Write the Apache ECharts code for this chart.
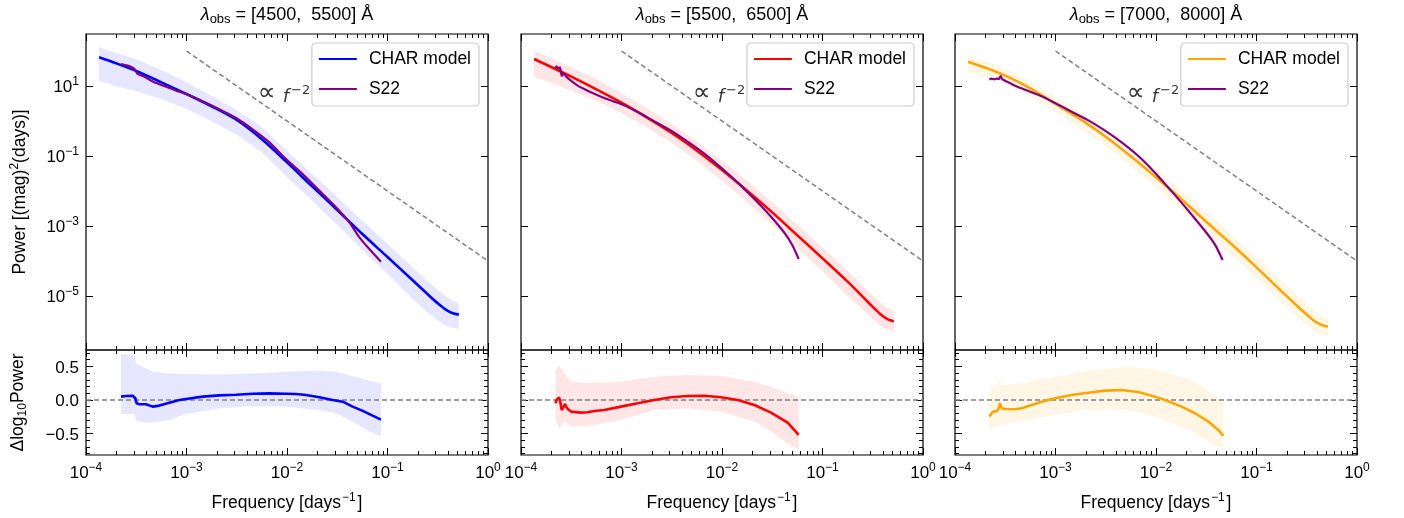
<!DOCTYPE html>
<html><head><meta charset="utf-8">
<script src="https://cdn.jsdelivr.net/npm/echarts@6/dist/echarts.min.js"></script>
<style>html,body{margin:0;padding:0;background:#fff}#c{width:1404px;height:518px}</style>
</head><body><div id="c"></div>
<script>
// ---------------- data (log10 values) ----------------
const panelTitles = [['4500', '5500'], ['5500', '6500'], ['7000', '8000']];
const modelColors = ['#0000ff', '#ff0000', '#ffa500'];
const bandColors = ['#e6e6ff', '#ffe6e6', '#fff6e6'];
const s22Color = '#800080';

const xMajorTicks = [-4, -3, -2, -1, 0];
const powerTicks = [-5, -3, -1, 1];
const resMajorTicks = [-0.5, 0, 0.5];
const resMinorTicks = [-0.8, -0.7, -0.6, -0.4, -0.3, -0.2, -0.1, 0.1, 0.2, 0.3, 0.4, 0.6, 0.7];

// CHAR model (log10 frequency grid shared by the three panels)
const modelFreqLog = [-3.87, -3.70, -3.50, -3.25, -3.00, -2.75, -2.50, -2.25, -2.00, -1.75, -1.50, -1.25, -1.00, -0.75, -0.60, -0.50, -0.42, -0.35, -0.29];
const model1PowerLog = [1.819, 1.648, 1.429, 1.105, 0.771, 0.419, 0.029, -0.520, -1.180, -1.867, -2.543, -3.229, -3.886, -4.550, -4.952, -5.210, -5.390, -5.495, -5.533];
const model1UpperLog = [2.105, 1.943, 1.762, 1.457, 1.105, 0.724, 0.314, -0.181, -0.848, -1.514, -2.181, -2.848, -3.514, -4.181, -4.580, -4.830, -5.000, -5.130, -5.210];
const model1LowerLog = [1.152, 0.990, 0.848, 0.629, 0.343, -0.010, -0.390, -0.895, -1.590, -2.276, -2.971, -3.686, -4.371, -5.086, -5.470, -5.700, -5.840, -5.910, -5.943];
const model2PowerLog = [1.771, 1.543, 1.267, 0.905, 0.524, 0.105, -0.343, -0.848, -1.400, -1.990, -2.610, -3.267, -3.924, -4.590, -5.020, -5.310, -5.530, -5.670, -5.724];
const model2UpperLog = [2.010, 1.800, 1.533, 1.200, 0.790, 0.371, -0.086, -0.581, -1.133, -1.705, -2.324, -2.962, -3.610, -4.276, -4.700, -4.980, -5.200, -5.340, -5.420];
const model2LowerLog = [1.267, 1.076, 0.867, 0.581, 0.219, -0.181, -0.619, -1.133, -1.705, -2.324, -2.962, -3.629, -4.295, -4.990, -5.400, -5.660, -5.860, -5.970, -6.010];
const model3PowerLog = [1.695, 1.524, 1.295, 0.933, 0.486, 0.048, -0.448, -1.010, -1.610, -2.229, -2.876, -3.514, -4.181, -4.867, -5.270, -5.530, -5.720, -5.830, -5.876];
const model3UpperLog = [1.867, 1.705, 1.486, 1.133, 0.695, 0.267, -0.229, -0.771, -1.371, -1.971, -2.610, -3.248, -3.895, -4.581, -4.970, -5.230, -5.430, -5.570, -5.657];
const model3LowerLog = [1.410, 1.267, 1.057, 0.695, 0.248, -0.210, -0.705, -1.276, -1.876, -2.514, -3.181, -3.819, -4.486, -5.181, -5.570, -5.820, -6.000, -6.110, -6.162];

// S22
const s22Freq1 = [-3.652, -3.569, -3.519, -3.486, -3.420, -3.320, -3.204, -3.104, -3.005, -2.839, -2.673, -2.507, -2.342, -2.176, -2.010, -1.844, -1.678, -1.512, -1.380, -1.280, -1.181, -1.065];
const s22Power1 = [1.629, 1.571, 1.495, 1.343, 1.267, 1.105, 0.981, 0.867, 0.771, 0.562, 0.333, 0.086, -0.238, -0.610, -1.086, -1.514, -1.990, -2.467, -2.895, -3.324, -3.657, -4.019];
const s22Freq2 = [-3.658, -3.645, -3.629, -3.612, -3.595, -3.575, -3.556, -3.519, -3.436, -3.337, -3.171, -3.005, -2.839, -2.673, -2.507, -2.342, -2.176, -2.010, -1.844, -1.678, -1.512, -1.380, -1.297, -1.237];
const s22Power2 = [1.514, 1.562, 1.495, 1.533, 1.286, 1.362, 1.286, 1.190, 1.010, 0.867, 0.657, 0.486, 0.257, -0.010, -0.276, -0.590, -0.933, -1.333, -1.762, -2.229, -2.733, -3.190, -3.562, -3.943];
const s22Freq3 = [-3.658, -3.635, -3.609, -3.585, -3.562, -3.546, -3.529, -3.502, -3.403, -3.270, -3.138, -3.005, -2.839, -2.673, -2.507, -2.342, -2.176, -2.010, -1.844, -1.678, -1.512, -1.413, -1.337];
const s22Power3 = [1.190, 1.210, 1.190, 1.210, 1.200, 1.286, 1.190, 1.152, 1.010, 0.857, 0.705, 0.514, 0.267, 0.019, -0.276, -0.610, -1.000, -1.476, -2.010, -2.562, -3.143, -3.533, -3.971];

// residuals  Δlog10 Power
const resFreq1 = [-3.652, -3.602, -3.536, -3.509, -3.496, -3.469, -3.403, -3.337, -3.270, -3.171, -3.071, -3.005, -2.839, -2.673, -2.507, -2.342, -2.176, -2.010, -1.910, -1.811, -1.678, -1.546, -1.446, -1.347, -1.247, -1.148, -1.065];
const resVal1 = [0.050, 0.059, 0.064, 0.025, -0.050, -0.064, -0.064, -0.099, -0.084, -0.040, 0.000, 0.015, 0.050, 0.069, 0.079, 0.094, 0.099, 0.094, 0.089, 0.074, 0.040, 0.000, -0.025, -0.099, -0.163, -0.233, -0.292];
const resBandFreq1 = [-3.652, -3.519, -3.502, -3.436, -3.337, -3.171, -3.005, -2.673, -2.342, -2.010, -1.678, -1.512, -1.347, -1.181, -1.065];
const resUpper1 = [0.684, 0.669, 0.545, 0.495, 0.421, 0.396, 0.386, 0.381, 0.396, 0.421, 0.436, 0.421, 0.357, 0.287, 0.248];
const resLower1 = [-0.208, -0.208, -0.307, -0.327, -0.337, -0.297, -0.208, -0.124, -0.089, -0.099, -0.149, -0.198, -0.322, -0.470, -0.535];

const resFreq2 = [-3.658, -3.642, -3.622, -3.609, -3.595, -3.579, -3.562, -3.542, -3.502, -3.403, -3.337, -3.270, -3.171, -3.005, -2.839, -2.673, -2.507, -2.342, -2.176, -2.010, -1.844, -1.678, -1.512, -1.347, -1.237];
const resVal2 = [-0.050, 0.010, 0.040, -0.025, -0.149, -0.109, -0.059, -0.124, -0.173, -0.188, -0.183, -0.163, -0.149, -0.099, -0.050, 0.000, 0.040, 0.059, 0.064, 0.040, 0.000, -0.074, -0.188, -0.337, -0.520];
const resBandFreq2 = [-3.658, -3.619, -3.569, -3.502, -3.337, -3.005, -2.673, -2.342, -2.010, -1.678, -1.512, -1.347, -1.237];
const resUpper2 = [0.446, 0.505, 0.396, 0.272, 0.248, 0.272, 0.347, 0.371, 0.357, 0.272, 0.198, 0.099, 0.050];
const resLower2 = [-0.272, -0.421, -0.322, -0.396, -0.386, -0.297, -0.149, -0.124, -0.173, -0.322, -0.470, -0.644, -0.743];

const resFreq3 = [-3.658, -3.635, -3.609, -3.585, -3.569, -3.552, -3.536, -3.502, -3.403, -3.337, -3.237, -3.138, -3.005, -2.839, -2.673, -2.507, -2.342, -2.176, -2.010, -1.910, -1.745, -1.612, -1.479, -1.380, -1.330];
const resVal3 = [-0.248, -0.198, -0.163, -0.173, -0.139, -0.050, -0.124, -0.134, -0.139, -0.124, -0.074, -0.025, 0.025, 0.074, 0.109, 0.139, 0.149, 0.119, 0.050, 0.000, -0.099, -0.198, -0.322, -0.446, -0.535];
const resBandFreq3 = [-3.658, -3.569, -3.552, -3.536, -3.337, -3.005, -2.673, -2.342, -2.176, -2.010, -1.678, -1.512, -1.330];
const resUpper3 = [0.149, 0.248, 0.297, 0.223, 0.248, 0.347, 0.436, 0.485, 0.485, 0.456, 0.322, 0.173, -0.050];
const resLower3 = [-0.436, -0.386, -0.376, -0.376, -0.322, -0.223, -0.139, -0.149, -0.178, -0.248, -0.446, -0.594, -0.743];

// reference power law  P ∝ f^-2  (log10 f, log10 P)
const powerLawRef = [[-3, 2], [0, -4]];
const powerLawLabelAt = [-2.29, 0.74];
const zeroLine = [[-4, 0], [0, 0]];

// ---------------- layout ----------------
const FONT = '"Liberation Sans", Arial, "DejaVu Sans", sans-serif';
const lefts = [86, 521, 955];
const W = 402, TOP = 34, H1 = 316, H2 = 105;
const xRange = [-4, 0], powerRange = [-6.543, 2.486], resRange = [-0.82, 0.745];
const xMinorTicks = [];
for (let d = -4; d < 0; d++) for (let k = 2; k <= 9; k++) xMinorTicks.push(d + Math.log10(k));

const models = [
  [model1PowerLog, model1UpperLog, model1LowerLog],
  [model2PowerLog, model2UpperLog, model2LowerLog],
  [model3PowerLog, model3UpperLog, model3LowerLog]];
const s22s = [[s22Freq1, s22Power1], [s22Freq2, s22Power2], [s22Freq3, s22Power3]];
const ress = [[resFreq1, resVal1, resBandFreq1, resUpper1, resLower1],
              [resFreq2, resVal2, resBandFreq2, resUpper2, resLower2],
              [resFreq3, resVal3, resBandFreq3, resUpper3, resLower3]];
const modelNames = ['CHAR model', 'CHAR model ', 'CHAR model  '];

const supRich = {
  b: {fontSize: 17, fontFamily: FONT, color: '#000', lineHeight: 20, verticalAlign: 'bottom'},
  s: {fontSize: 12, fontFamily: FONT, color: '#000', lineHeight: 10, verticalAlign: 'top'}
};
const minus = v => (v < 0 ? '\u2212' + (-v) : '' + v);
const powFmt = v => '{b|10}{s|' + minus(Math.round(v)) + '}';

function tickAxis(gridIndex, position, range, values, len, label) {
  return {
    type: 'value', gridIndex, position, min: range[0], max: range[1],
    axisLine: {show: false, onZero: false},
    splitLine: {show: false},
    axisTick: {show: true, inside: true, length: len, customValues: values, lineStyle: {color: '#000', width: 1}},
    axisLabel: {show: !!label, customValues: values, margin: 7, color: '#000', fontFamily: FONT, fontSize: 17,
                formatter: label || undefined, rich: supRich},
    silent: true
  };
}

const grids = [], xAxes = [], yAxes = [], series = [], legends = [], graphics = [];
const zip = (a, b) => a.map((v, i) => [v, b[i]]);

function bandSeries(xs, lo, hi, color, xi, yi) {
  const data = xs.map((x, i) => [x, lo[i], hi[i]]);
  return {
    type: 'custom', xAxisIndex: xi, yAxisIndex: yi, silent: true, data,
    encode: {x: 0, y: [1, 2]},
    renderItem(params, api) {
      if (params.dataIndex !== 0) return null;
      const pts = [];
      for (let i = 0; i < data.length; i++) pts.push(api.coord([data[i][0], data[i][2]]));
      for (let i = data.length - 1; i >= 0; i--) pts.push(api.coord([data[i][0], data[i][1]]));
      return {type: 'polygon', shape: {points: pts}, style: {fill: color, stroke: null}};
    }
  };
}

for (let c = 0; c < 3; c++) {
  const L = lefts[c];
  const gTop = 2 * c, gBot = 2 * c + 1;
  grids.push({left: L, top: TOP, width: W, height: H1, show: true, borderColor: '#000', borderWidth: 1.2});
  grids.push({left: L, top: TOP + H1, width: W, height: H2, show: true, borderColor: '#000', borderWidth: 1.2});

  const xb = xAxes.length;
  xAxes.push(tickAxis(gTop, 'bottom', xRange, xMajorTicks, 7));
  xAxes.push(tickAxis(gTop, 'bottom', xRange, xMinorTicks, 4));
  xAxes.push(tickAxis(gTop, 'top', xRange, xMajorTicks, 7));
  xAxes.push(tickAxis(gTop, 'top', xRange, xMinorTicks, 4));
  xAxes.push(tickAxis(gBot, 'bottom', xRange, xMajorTicks, 7, powFmt));
  xAxes.push(tickAxis(gBot, 'bottom', xRange, xMinorTicks, 4));
  xAxes.push(tickAxis(gBot, 'top', xRange, xMajorTicks, 7));
  xAxes.push(tickAxis(gBot, 'top', xRange, xMinorTicks, 4));

  const yb = yAxes.length;
  const resFmt = v => '{b|' + (v < 0 ? '\u2212' + (-v).toFixed(1) : v.toFixed(1)) + '}';
  yAxes.push(tickAxis(gTop, 'left', powerRange, powerTicks, 7, c === 0 ? powFmt : null));
  yAxes.push(tickAxis(gTop, 'right', powerRange, powerTicks, 7));
  yAxes.push(tickAxis(gBot, 'left', resRange, resMajorTicks, 7, c === 0 ? resFmt : null));
  yAxes.push(tickAxis(gBot, 'left', resRange, resMinorTicks, 4));
  yAxes.push(tickAxis(gBot, 'right', resRange, resMajorTicks, 7));
  yAxes.push(tickAxis(gBot, 'right', resRange, resMinorTicks, 4));

  const xiT = xb, yiT = yb, xiB = xb + 4, yiB = yb + 2;
  const [mp, mu, ml] = models[c];
  const [sf, sp] = s22s[c];
  const [rf, rv, rbf, ru, rl] = ress[c];

  // top panel
  series.push(bandSeries(modelFreqLog, ml, mu, bandColors[c], xiT, yiT));
  series.push({type: 'line', xAxisIndex: xiT, yAxisIndex: yiT, data: powerLawRef, symbol: 'none', silent: true,
               lineStyle: {color: '#808080', width: 1.5, type: [5, 3]}});
  series.push({type: 'scatter', xAxisIndex: xiT, yAxisIndex: yiT, data: [powerLawLabelAt], symbolSize: 0, silent: true,
               label: {show: true, position: 'right', distance: 0, formatter: '{p|\u221D}{i|f}{s|\u22122}',
                       rich: {p: {fontSize: 25, fontFamily: '"DejaVu Sans", sans-serif', color: '#000', lineHeight: 22, verticalAlign: 'bottom', padding: [0, 7, 0, 0]},
                              i: {fontSize: 18, fontFamily: '"DejaVu Sans", sans-serif', fontStyle: 'italic', color: '#000', lineHeight: 20, verticalAlign: 'bottom'},
                              s: {fontSize: 13, fontFamily: '"DejaVu Sans", sans-serif', color: '#000', lineHeight: 10, verticalAlign: 'top', padding: [0, 0, 0, 2]}}}});
  series.push({type: 'line', name: modelNames[c], xAxisIndex: xiT, yAxisIndex: yiT, data: zip(modelFreqLog, mp),
               symbol: 'none', smooth: 0.3, silent: true, color: modelColors[c],
               lineStyle: {color: modelColors[c], width: 2.6}});
  series.push({type: 'line', name: 'S22', xAxisIndex: xiT, yAxisIndex: yiT, data: zip(sf, sp),
               symbol: 'none', smooth: 0.2, silent: true, color: s22Color,
               lineStyle: {color: s22Color, width: 2.2}});

  // residual panel
  series.push(bandSeries(rbf, rl, ru, bandColors[c], xiB, yiB));
  series.push({type: 'line', xAxisIndex: xiB, yAxisIndex: yiB, data: zeroLine, symbol: 'none', silent: true,
               lineStyle: {color: '#808080', width: 1.5, type: [5, 3]}});
  series.push({type: 'line', xAxisIndex: xiB, yAxisIndex: yiB, data: zip(rf, rv), symbol: 'none', silent: true,
               lineStyle: {color: modelColors[c], width: 2.6}});

  legends.push({
    orient: 'vertical', right: 1404 - (L + W - 9), top: 43,
    data: [modelNames[c], 'S22'], formatter: n => n.trim(),
    itemWidth: 38, itemHeight: 14, itemGap: 12,
    padding: [7, 8, 8, 6], borderColor: '#cccccc', borderWidth: 1.2, borderRadius: 4,
    backgroundColor: 'rgba(255,255,255,0.8)',
    itemStyle: {opacity: 0},
    textStyle: {fontSize: 17.5, fontFamily: FONT, color: '#000', padding: [0, 0, 0, 7]},
    selectedMode: false
  });

  graphics.push({type: 'text', x: L + W / 2, y: 16, silent: true,
    style: {text: '{l|\u03BB}{sub|obs}{n| = [' + panelTitles[c][0] + ',  ' + panelTitles[c][1] + '] \u00C5}',
            align: 'center', verticalAlign: 'middle',
            rich: {l: {fontSize: 18, fontFamily: FONT, fontStyle: 'italic', fill: '#000', lineHeight: 20, verticalAlign: 'top'},
                   n: {fontSize: 18, fontFamily: FONT, fill: '#000', lineHeight: 20, verticalAlign: 'top'},
                   sub: {fontSize: 13, fontFamily: FONT, fill: '#000', lineHeight: 13, verticalAlign: 'bottom'}}}});
  graphics.push({type: 'text', x: L + W / 2, y: 502, silent: true,
    style: {text: '{n|Frequency [days}{s|\u22121}{n|]}', align: 'center', verticalAlign: 'middle',
            rich: {n: {fontSize: 17.5, fontFamily: FONT, fill: '#000', lineHeight: 20, verticalAlign: 'bottom'},
                   s: {fontSize: 12, fontFamily: FONT, fill: '#000', lineHeight: 10, verticalAlign: 'top', padding: [0, 2, 0, 1]}}}});
}

graphics.push({type: 'text', x: 19, y: TOP + H1 / 2, rotation: Math.PI / 2, silent: true,
  style: {text: '{n|Power [(mag)}{s|2}{n|(days)]}', align: 'center', verticalAlign: 'middle',
          rich: {n: {fontSize: 17.5, fontFamily: FONT, fill: '#000', lineHeight: 20, verticalAlign: 'bottom'},
                 s: {fontSize: 12, fontFamily: FONT, fill: '#000', lineHeight: 10, verticalAlign: 'top'}}}});
graphics.push({type: 'text', x: 19, y: TOP + H1 + H2 / 2, rotation: Math.PI / 2, silent: true,
  style: {text: '{n|\u0394log}{sub|10}{n|Power}', align: 'center', verticalAlign: 'middle',
          rich: {n: {fontSize: 17.5, fontFamily: FONT, fill: '#000', lineHeight: 20, verticalAlign: 'top'},
                 sub: {fontSize: 12, fontFamily: FONT, fill: '#000', lineHeight: 12, verticalAlign: 'bottom'}}}});

const chart = echarts.init(document.getElementById('c'), null, {renderer: 'canvas'});
chart.setOption({
  animation: false,
  backgroundColor: '#fff',
  grid: grids, xAxis: xAxes, yAxis: yAxes, legend: legends, series, graphic: graphics
});
</script></body></html>
